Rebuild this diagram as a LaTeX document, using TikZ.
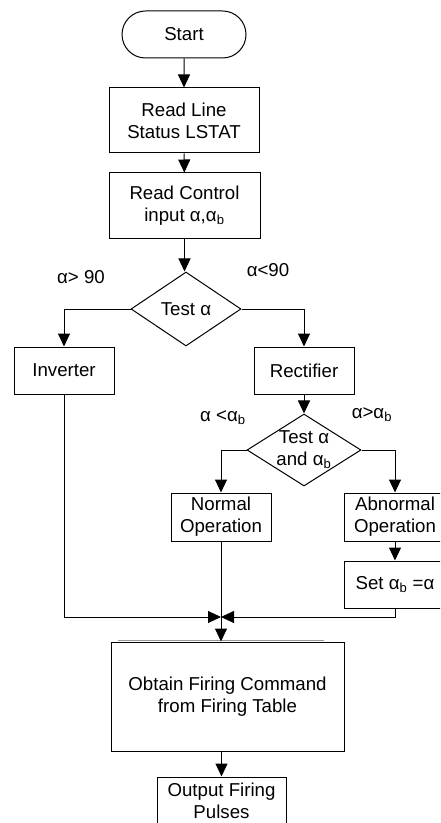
\documentclass[tikz,border=0pt]{standalone}
\usepackage{fontspec}
\setmainfont{Liberation Sans}
\usetikzlibrary{arrows.meta,shapes.geometric,shapes.misc}

\newcommand{\alb}{α\textsubscript{b}}
\newcommand{\flowfont}{\fontsize{14}{16.5}\selectfont}

\tikzset{every picture/.style={line width=0.75pt}}
\tikzset{
	flowbox/.style={draw, rectangle, align=center, inner sep=0pt, font=\flowfont},
	termbox/.style={draw, rounded rectangle, align=center, inner sep=0pt, font=\flowfont},
	testbox/.style={draw, diamond, align=center, inner sep=0pt, font=\flowfont},
	branchlabel/.style={align=center, inner sep=0pt, font=\flowfont},
	flowarrow/.style={-{Triangle[length=9.75pt,width=9pt]}}
}

\begin{document}
\begin{tikzpicture}[x=0.75pt,y=0.75pt,yscale=-1,xscale=1]
		%set diagram from (0,0) to (440,823), boxes at the edges are cut
		\useasboundingbox (0,0) rectangle (440,823);
		\clip (0,0) rectangle (440,823);

		\node (start) at (184,34.5) [termbox, minimum width=93pt, minimum height=35.25pt] {Start};
		\node (readline) at (184,120.5) [flowbox, minimum width=112.5pt, minimum height=48.75pt] {Read Line\\Status LSTAT};
		\node (readctrl) at (184.5,206) [flowbox, minimum width=113.25pt, minimum height=49.5pt] {Read Control\\input α,\alb};
		\node (testa) at (186,309) [testbox, minimum width=82.5pt, minimum height=55.5pt] {Test α};


		\node (inverter) at (64,370.5) [flowbox, minimum width=75pt, minimum height=35.25pt] {Inverter};
		\node (rectifier) at (304,370.5) [flowbox, minimum width=75pt, minimum height=35.25pt] {Rectifier};
		\node (testab) at (304,450) [testbox, minimum width=85.5pt, minimum height=54pt, label={[branchlabel]center:Test α\\and \alb}] {};


		\node (normal) at (221,517) [flowbox, minimum width=75pt, minimum height=36pt] {Normal\\Operation};
		\node (abnormal) at (395,517) [flowbox, minimum width=76.5pt, minimum height=36pt] {Abnormal\\Operation};
		\node (setab) at (395,584.5) [flowbox, minimum width=76.5pt, minimum height=35.25pt] {Set \alb{} =α};
		\coordinate (merge) at (221,617);


		\draw [color={rgb, 255:red, 150; green, 150; blue, 150 }] (118,640) -- (324,640);
		\node (obtain) at (227.5,696.5) [flowbox, minimum width=174.75pt, minimum height=81.75pt] {Obtain Firing Command\\from Firing Table};
		\node (output) at (221.5,801) [flowbox, minimum width=96.75pt, minimum height=36pt] {Output Firing\\Pulses};


		\node (lblgt) at (81,277.5) [branchlabel] {α> 90};
		\node (lbllt) at (268,270) [branchlabel] {α<90};
		\node (lblnorm) at (223,418) [branchlabel] {α <\alb};
		\node (lblabn) at (372,414.5) [branchlabel] {α>\alb};


		\draw [flowarrow] (start) -- (readline);
		\draw [flowarrow] (readline) -- (readctrl);
		\draw [flowarrow] (readctrl.south) -- (readctrl.south |- testa.north);
		\draw [flowarrow] (testa.west) -| (inverter.north);
		\draw [flowarrow] (testa.east) -| (rectifier.north);
		\draw [flowarrow] (rectifier) -- (testab);
		\draw [flowarrow] (testab.west) -| (normal.north);
		\draw [flowarrow] (testab.east) -| (abnormal.north);
		\draw [flowarrow] (abnormal) -- (setab);
		\draw [flowarrow] (inverter.south) |- (merge);
		\draw [flowarrow] (setab.south) |- (merge);
		\draw [flowarrow] (normal.south) -- (normal.south |- obtain.north);
		\draw [flowarrow] (output.north |- obtain.south) -- (output.north);

\end{tikzpicture}
\end{document}
